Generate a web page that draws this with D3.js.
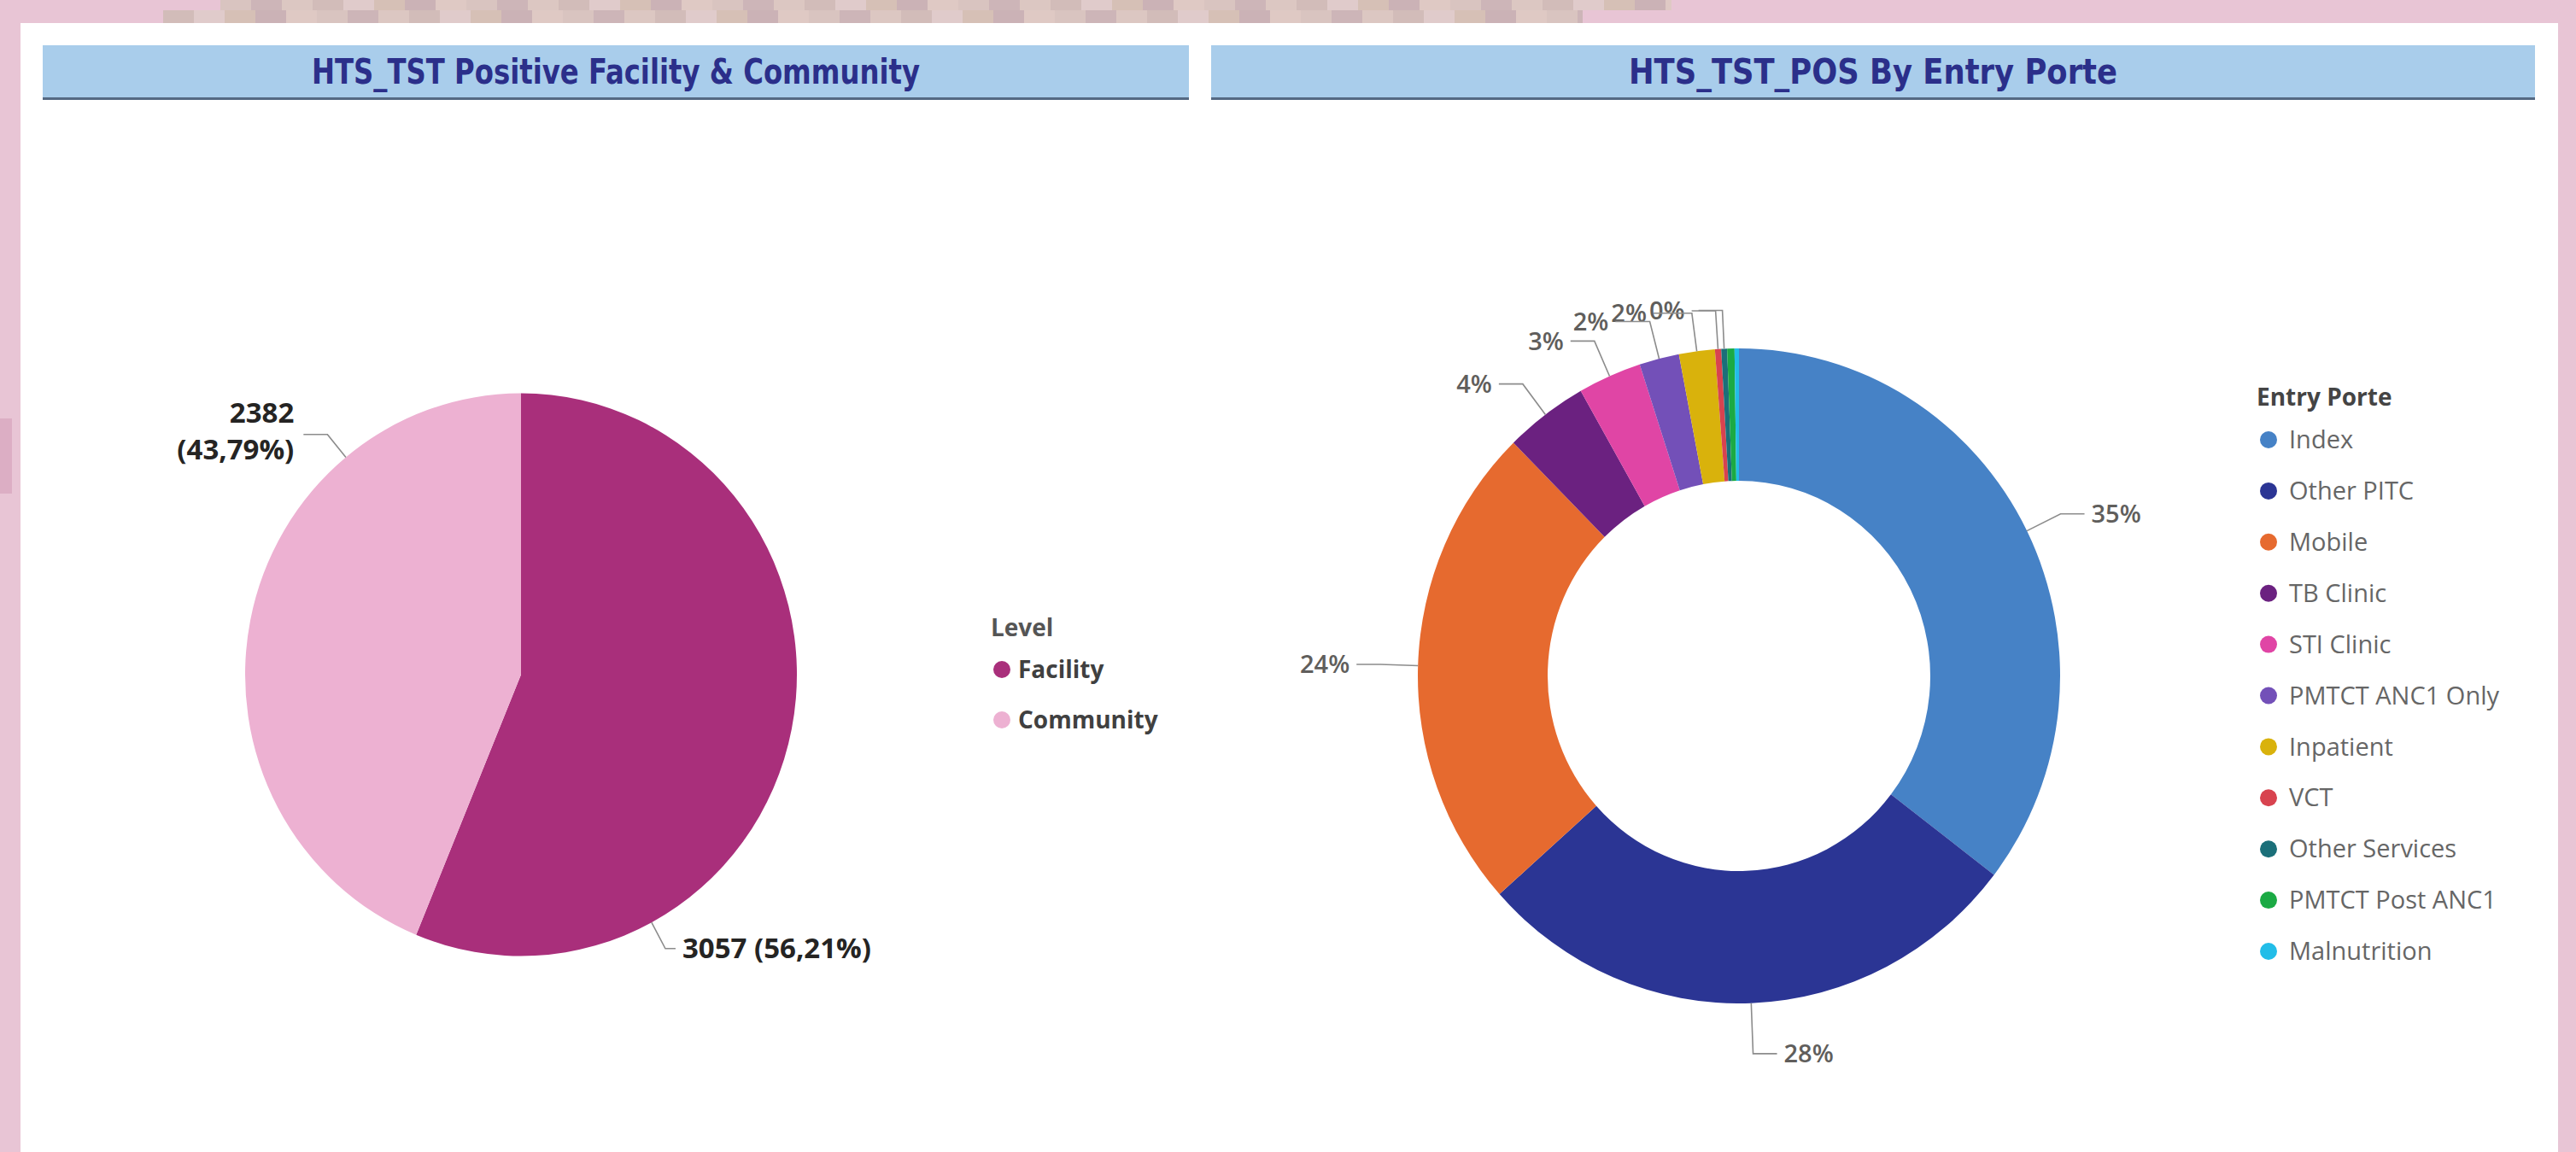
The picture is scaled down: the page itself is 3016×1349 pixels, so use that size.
<!DOCTYPE html>
<html>
<head>
<meta charset="utf-8">
<script src="https://cdn.jsdelivr.net/npm/d3@7"></script>
<style>
  html, body { margin: 0; padding: 0; background: #e8c5d5; }
  svg { display: block; }
  text { font-family: "Open Sans", "Noto Sans", sans-serif; }
</style>
</head>
<body>
<svg id="chart" width="3016" height="1349"></svg>
<script>
// ---- data ----
const titles = ['HTS_TST Positive Facility & Community', 'HTS_TST_POS By Entry Porte'];

const levelTitle = 'Level';
const levelNames = ['Facility', 'Community'];
const levelValues = [3057, 2382];
const levelColors = ['#a92f7b', '#edb1d2'];

const entryTitle = 'Entry Porte';
const entryNames = ['Index', 'Other PITC', 'Mobile', 'TB Clinic', 'STI Clinic', 'PMTCT ANC1 Only',
  'Inpatient', 'VCT', 'Other Services', 'PMTCT Post ANC1', 'Malnutrition'];
const entryValues = [1925, 1523, 1317, 228, 174, 109, 98, 17, 16, 20, 12];
const entryColors = ['#4682c6', '#2b3594', '#e66a2f', '#6b2180', '#e045a5', '#7350b8',
  '#d9b20c', '#d8434f', '#1b6f79', '#1baa44', '#22bde8'];
// the report only printed some labels, one slice kept just its leader line
const entryLabelMode = ['text', 'text', 'text', 'text', 'text', 'text', 'text', 'text', 'line', 'none', 'none'];

// ---- setup ----
const W = 3016, H = 1349;
const sy = 1.02; // the screenshot is a bit stretched vertically
const svg = d3.select('#chart');
const polar = (c, a, r) => [c.x + r * Math.sin(a), c.y - r * Math.cos(a) * sy];
const pie = d3.pie().sort(null).value(d => d);
const fr = d3.formatLocale({decimal: ',', thousands: '\u00a0', grouping: [3], currency: ['', '']});
const pct2 = fr.format('.2%');
const pct0 = d3.format('.0%');

// background, blurred strip on top, white canvas
svg.append('rect').attr('width', W).attr('height', H).attr('fill', '#e8c5d5');
const stripColors = ['#d9c4c0', '#cdb5b8', '#dcc7c2', '#d2bcb9', '#e0cbcb', '#d6c0b6', '#cbb2b6', '#dfc9c4'];
[[258, 1957, 0, 12, 0], [191, 1853, 12, 15, 3]].forEach(([x0, x1, y, h, off]) => {
  for (let x = x0, k = off; x < x1; x += 36, k++) {
    svg.append('rect').attr('x', x).attr('y', y).attr('width', Math.min(36, x1 - x)).attr('height', h)
      .attr('fill', stripColors[k % stripColors.length]);
  }
});
svg.append('rect').attr('x', 0).attr('y', 490).attr('width', 14).attr('height', 88).attr('fill', '#dcaec4');
svg.append('rect').attr('x', 24).attr('y', 27).attr('width', 2971).attr('height', H - 27).attr('fill', '#ffffff');

// title bars
const bars = [{x: 50, w: 1342, len: 712}, {x: 1418, w: 1550, len: 572}];
bars.forEach((b, i) => {
  svg.append('rect').attr('x', b.x).attr('y', 53).attr('width', b.w).attr('height', 62).attr('fill', '#a9cdeb');
  svg.append('rect').attr('x', b.x).attr('y', 114).attr('width', b.w).attr('height', 3).attr('fill', '#546983');
  svg.append('text')
    .attr('x', b.x + b.w / 2).attr('y', 98)
    .attr('text-anchor', 'middle')
    .attr('textLength', b.len).attr('lengthAdjust', 'spacingAndGlyphs')
    .style('font-family', '"DejaVu Sans Condensed", "Liberation Sans Narrow", "DejaVu Sans", sans-serif')
    .style('font-weight', 'bold').style('font-size', '40px')
    .attr('fill', '#2b2f8a')
    .text(titles[i]);
});

const leader = (g, pts) => g.append('path')
  .attr('d', d3.line()(pts)).attr('fill', 'none')
  .attr('stroke', '#8c8c8c').attr('stroke-width', 1.6);

// ---- left: pie ----
const pieC = {x: 610, y: 790}, pieR = 323;
const levelArcs = pie(levelValues);
const levelTotal = d3.sum(levelValues);

svg.append('g')
  .attr('transform', `translate(${pieC.x},${pieC.y}) scale(1,${sy})`)
  .selectAll('path').data(levelArcs).join('path')
  .attr('d', d3.arc().innerRadius(0).outerRadius(pieR))
  .attr('fill', (d, i) => levelColors[i]);

const gPieLab = svg.append('g');
levelArcs.forEach((d, i) => {
  const a = d.startAngle + 0.75 * (d.endAngle - d.startAngle);
  const side = Math.sin(a) >= 0 ? 1 : -1;
  const p0 = polar(pieC, a, pieR), p1 = polar(pieC, a, pieR + 34);
  const p2 = [p1[0] + side * (side > 0 ? 12 : 28), p1[1]];
  leader(gPieLab, [p0, p1, p2]);
  const tx = p2[0] + side * (side > 0 ? 8 : 11);
  const t = gPieLab.append('text')
    .attr('x', tx).attr('y', p2[1])
    .attr('text-anchor', side > 0 ? 'start' : 'end')
    .style('font-size', '33px').style('font-weight', 'bold').attr('fill', '#252423');
  const v = String(d.value), p = '(' + pct2(d.value / levelTotal) + ')';
  if (side > 0) {
    t.attr('dy', '0.35em').text(v + ' ' + p);
  } else {
    t.append('tspan').attr('x', tx).attr('dy', '-0.4em').text(v);
    t.append('tspan').attr('x', tx).attr('dy', '1.3em').text(p);
  }
});

// left legend
const legL = svg.append('g').attr('transform', 'translate(1160,0)');
legL.append('text').attr('x', 0).attr('y', 745)
  .style('font-size', '28px').style('font-weight', 'bold').attr('fill', '#555')
  .text(levelTitle);
levelNames.forEach((n, i) => {
  const y = 784 + i * 59;
  legL.append('circle').attr('cx', 13).attr('cy', y).attr('r', 10).attr('fill', levelColors[i]);
  legL.append('text').attr('x', 32).attr('y', y).attr('dy', '0.35em')
    .style('font-size', '28px').style('font-weight', 'bold').attr('fill', '#404040')
    .text(n);
});

// ---- right: donut ----
const donutC = {x: 2036, y: 791.5}, donutR = 376, donutR0 = 224;
const entryArcs = pie(entryValues);
const entryTotal = d3.sum(entryValues);

svg.append('g')
  .attr('transform', `translate(${donutC.x},${donutC.y}) scale(1,${sy})`)
  .selectAll('path').data(entryArcs).join('path')
  .attr('d', d3.arc().innerRadius(donutR0).outerRadius(donutR))
  .attr('fill', (d, i) => entryColors[i]);

const gLab = svg.append('g');
const labs = entryArcs.map((d, i) => {
  const a = (d.startAngle + d.endAngle) / 2;
  const side = Math.sin(a) >= 0 ? 1 : -1;
  const ext = 44 + 14 * Math.max(0, -Math.cos(a)); // leaders run a bit longer below the ring
  const p0 = polar(donutC, a, donutR);
  const p1 = polar(donutC, a, donutR + ext);
  return {i, a, side, p0, p1, hx: p1[0] + side * 28, mode: entryLabelMode[i], text: pct0(d.value / entryTotal)};
}).filter(l => l.mode !== 'none');

labs.forEach(l => {
  if (l.mode !== 'text') return;
  l.node = gLab.append('text')
    .style('font-size', '29px').style('font-weight', 600).attr('fill', '#605e5c')
    .attr('dy', '0.35em').text(l.text);
  l.w = l.node.node().getComputedTextLength();
});

// push crowded left-side labels apart, starting from the top
let prevEdge = null, prevY = null;
labs.filter(l => l.mode === 'text' && l.side < 0)
  .sort((a, b) => b.a - a.a)
  .forEach(l => {
    let right = l.hx - 8;
    if (prevEdge !== null && Math.abs(l.p1[1] - prevY) < 30 && right > prevEdge - 3) {
      const s = right - (prevEdge - 3);
      l.hx -= s; right -= s;
    }
    prevEdge = right - l.w; prevY = l.p1[1];
  });

labs.forEach(l => {
  leader(gLab, [l.p0, l.p1, [l.hx, l.p1[1]]]);
  if (l.node) {
    l.node.attr('x', l.hx + l.side * 8).attr('y', l.p1[1])
      .attr('text-anchor', l.side > 0 ? 'start' : 'end');
  }
});

// right legend
const legR = svg.append('g').attr('transform', 'translate(2642,0)');
legR.append('text').attr('x', 0).attr('y', 475)
  .style('font-size', '28px').style('font-weight', 'bold').attr('fill', '#444')
  .text(entryTitle);
entryNames.forEach((n, i) => {
  const y = 515 + i * 59.9;
  legR.append('circle').attr('cx', 14).attr('cy', y).attr('r', 10).attr('fill', entryColors[i]);
  legR.append('text').attr('x', 38).attr('y', y).attr('dy', '0.35em')
    .style('font-size', '29px').attr('fill', '#666')
    .text(n);
});
</script>
</body>
</html>
